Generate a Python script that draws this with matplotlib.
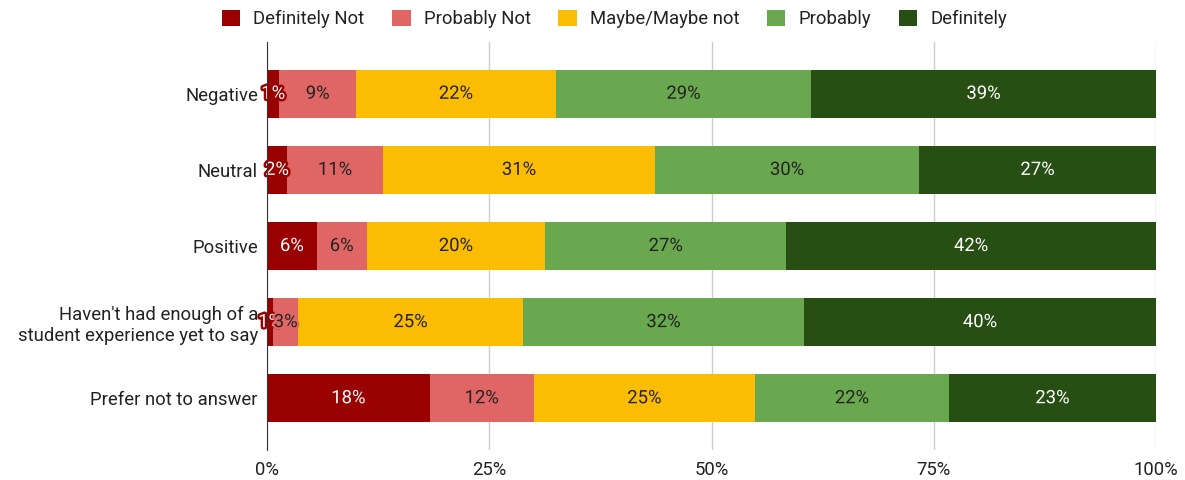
import numpy as np
import matplotlib.pyplot as plt
import matplotlib.patheffects as pe

plt.rcParams['font.family'] = ['Roboto', 'DejaVu Sans']

categories = ["Negative", "Neutral", "Positive",
              "Haven't had enough of a\nstudent experience yet to say",
              "Prefer not to answer"]
series = ["Definitely Not", "Probably Not", "Maybe/Maybe not", "Probably", "Definitely"]

# percentages
definitely_not = [1.4, 2.25, 5.6, 0.7, 18.3]
probably_not = [8.6, 10.8, 5.6, 2.8, 11.7]
maybe = [22.5, 30.6, 20.1, 25.3, 24.9]
probably = [28.7, 29.7, 27.1, 31.6, 21.8]
definitely = [38.8, 26.65, 41.6, 39.6, 23.3]

colors = ["#990000", "#e06666", "#fbbc04", "#6aa84f", "#274e13"]
text_colors = ["white", "#222222", "#222222", "#222222", "white"]

data = [definitely_not, probably_not, maybe, probably, definitely]
fs = 13.3

fig = plt.figure(figsize=(11.85, 4.8), dpi=100)
ax = fig.add_axes([267/1185, 30/480, 889/1185, 408/480])

y = np.arange(len(categories))
left = np.zeros(len(categories))
handles = []
for vals, col, tc, name in zip(data, colors, text_colors, series):
    vals = np.array(vals)
    b = ax.barh(y, vals, left=left, height=0.63, color=col, label=name, zorder=3)
    handles.append(b)
    for yi, v, l in zip(y, vals, left):
        ax.text(l + v / 2, yi, "%d%%" % round(v), ha='center', va='center',
                color=tc, fontsize=fs, zorder=4,
                path_effects=[pe.withStroke(linewidth=3.5, foreground=col)])
    left = left + vals

ax.set_xlim(0, 100)
ax.set_ylim(4.68, -0.68)
ax.set_yticks(y)
ax.set_yticklabels(categories, fontsize=fs, color="#222222", linespacing=1.2)
ax.set_xticks([0, 25, 50, 75, 100])
ax.set_xticklabels(["0%", "25%", "50%", "75%", "100%"], fontsize=fs, color="#222222")
ax.tick_params(length=0, pad=6.5)
ax.tick_params(axis='x', pad=8)
ax.grid(axis='x', color="#cccccc", linewidth=1, zorder=0)
for s in ['top', 'right', 'bottom']:
    ax.spines[s].set_visible(False)
ax.spines['left'].set_color("#333333")
ax.spines['left'].set_zorder(5)

fig.legend(handles=handles, labels=series, loc='center', ncol=5,
           bbox_to_anchor=(0.5185, 1 - 19/480), frameon=False, fontsize=fs,
           handlelength=1.0, handleheight=1.0, handletextpad=0.7,
           columnspacing=1.5, labelcolor="#222222", borderpad=0)

fig.savefig("out.png", dpi=100)
